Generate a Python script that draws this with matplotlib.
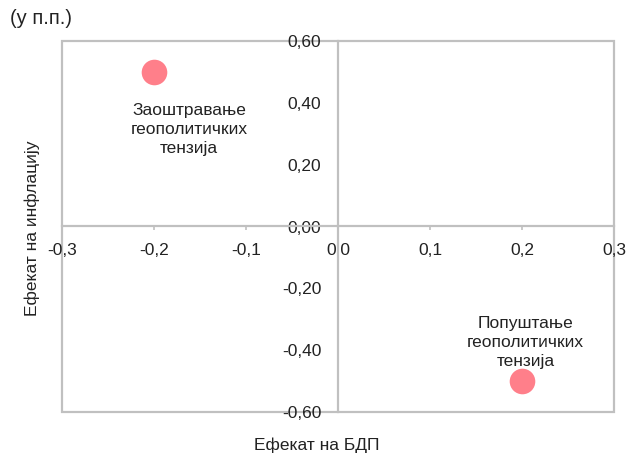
import matplotlib
matplotlib.use("Agg")
import matplotlib.pyplot as plt
from matplotlib.patches import Rectangle

plt.rcParams['font.family'] = ['Liberation Sans', 'DejaVu Sans']

# Data
gdp_effect = [-0.2, 0.2]
inflation_effect = [0.5, -0.5]
point_labels = ["Заоштравање\nгеополитичких\nтензија", "Попуштање\nгеополитичких\nтензија"]
x_ticks = [-0.3, -0.2, -0.1, 0.0, 0.1, 0.2, 0.3]
x_tick_labels = ["-0,3", "-0,2", "-0,1", "0,0", "0,1", "0,2", "0,3"]
y_ticks = [-0.6, -0.4, -0.2, 0.0, 0.2, 0.4, 0.6]
y_tick_labels = ["-0,60", "-0,40", "-0,20", "0,00", "0,20", "0,40", "0,60"]

W, H = 631, 461
fig = plt.figure(figsize=(W / 100, H / 100), dpi=100)
ax = fig.add_axes([62 / W, (H - 412) / H, 552 / W, 371 / H])

grey = "#C0C0C0"
fs = 12.5

ax.scatter(gdp_effect, inflation_effect, s=340, color="#FF7F8A", zorder=3, linewidths=0)

ax.set_xlim(-0.3, 0.3)
ax.set_ylim(-0.6, 0.6)

for s in ["top", "right"]:
    ax.spines[s].set_visible(False)
ax.spines["left"].set_position(("data", 0))
ax.spines["bottom"].set_position(("data", 0))
for s in ["left", "bottom"]:
    ax.spines[s].set_color(grey)
    ax.spines[s].set_linewidth(1.6)

frame = Rectangle((0, 0), 1, 1, transform=ax.transAxes, fill=False,
                  edgecolor=grey, linewidth=1.6, clip_on=False, zorder=1)
ax.add_patch(frame)

ax.set_xticks(x_ticks)
ax.set_xticklabels(x_tick_labels, fontsize=fs, color="#222222")
ax.set_yticks(y_ticks)
ax.set_yticklabels(y_tick_labels, fontsize=fs, color="#222222")
ax.tick_params(axis="x", direction="out", length=3, width=1.2, color=grey, pad=9)
ax.tick_params(axis="y", length=0, pad=12)
for lab in ax.get_yticklabels():
    lab.set_verticalalignment("center_baseline")

# point labels
label_pos = [(-0.162, 0.313), (0.204, -0.375)]
for (tx, ty), lab in zip(label_pos, point_labels):
    ax.text(tx, ty, lab, ha="center", va="center", fontsize=fs, color="#222222",
            linespacing=1.35)

fig.text(10 / W, 1 - 19 / H, "(у п.п.)", ha="left", va="center", fontsize=14.5, color="#222222")
fig.text(32 / W, 1 - 228 / H, "Ефекат на инфлацију", rotation=90, ha="center", va="center",
         fontsize=fs, color="#222222")
fig.text(317 / W, 1 - 445 / H, "Ефекат на БДП", ha="center", va="center",
         fontsize=fs, color="#222222")

fig.savefig("out.png", dpi=100)
